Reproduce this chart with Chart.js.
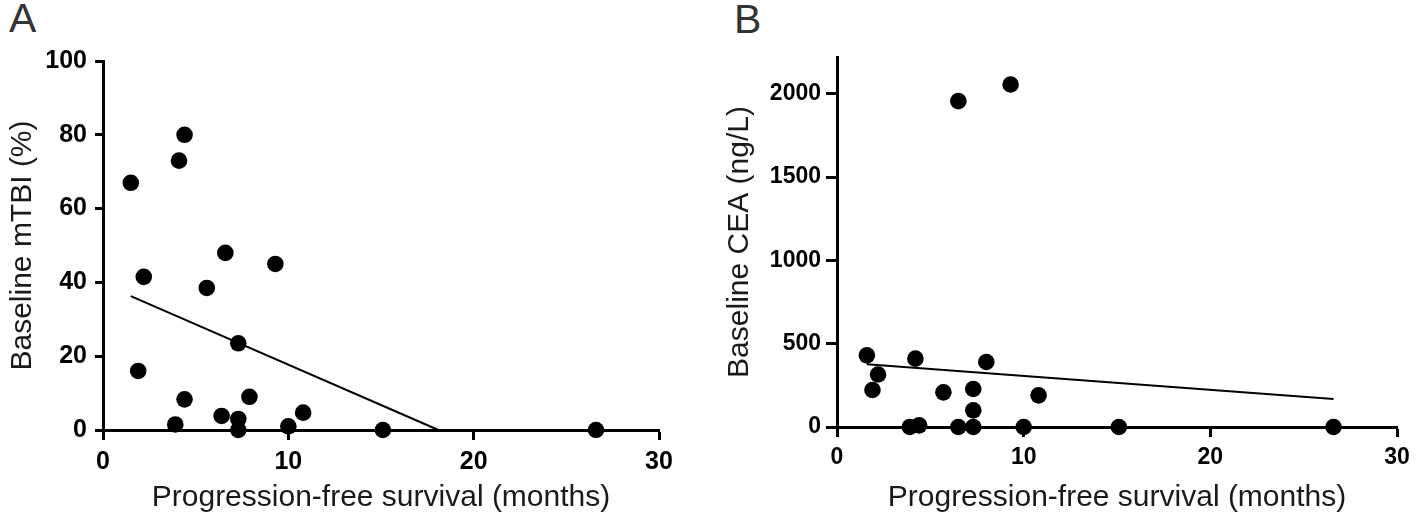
<!DOCTYPE html>
<html>
<head>
<meta charset="utf-8">
<script src="https://cdn.jsdelivr.net/npm/chart.js@4.4.1/dist/chart.umd.min.js"></script>
<style>
  html, body { margin: 0; padding: 0; background: #fff; }
  body { width: 1418px; height: 528px; position: relative; overflow: hidden; }
  canvas { position: absolute; top: 0; }
  #ca { left: 0; }
  #cb { left: 700px; }
  .lbl { position: absolute; font-family: 'Liberation Sans', Arial, sans-serif; font-size: 41px; line-height: 1; color: #333; }
</style>
</head>
<body>
<div class="lbl" style="left:9px; top:-2px;">A</div>
<div class="lbl" style="left:734px; top:-1px;">B</div>
<canvas id="ca" width="700" height="528"></canvas>
<canvas id="cb" width="718" height="528"></canvas>
<script>
// Panel A: baseline mTBI vs progression-free survival
const aPfs  = [1.5, 4.1, 4.4, 2.2, 1.9, 5.6, 6.6, 9.3, 7.3, 4.4, 7.9, 3.9, 6.4, 7.3, 10.8, 10.0, 7.3, 15.1, 26.6];
const aMtbi = [67, 73, 80, 41.5, 16, 38.5, 48, 45, 23.5, 8.3, 9, 1.5, 3.8, 3, 4.7, 1, 0, 0, 0];
const aFitX = [1.5, 18.1];
const aFitY = [36.3, 0];

// Panel B: baseline CEA vs progression-free survival
const bPfs = [9.3, 6.5, 1.6, 4.2, 8.0, 2.2, 1.9, 5.7, 7.3, 10.8, 7.3, 3.9, 4.4, 6.5, 7.3, 10.0, 15.1, 26.6];
const bCea = [2055, 1955, 430, 410, 390, 315, 222, 208, 228, 190, 100, 0, 10, 0, 0, 0, 0, 0];
const bFitX = [1.6, 26.6];
const bFitY = [376, 168];

// Tick labels
const xTicks  = [0, 10, 20, 30];
const aYTicks = [0, 20, 40, 60, 80, 100];
const bYTicks = [0, 500, 1000, 1500, 2000];

const titleA_x = 'Progression-free survival (months)';
const titleA_y = 'Baseline mTBI (%)';
const titleB_x = 'Progression-free survival (months)';
const titleB_y = 'Baseline CEA (ng/L)';

const FONT = "'Liberation Sans', Arial, sans-serif";

function pts(xs, ys) { return xs.map((x, i) => ({ x: x, y: ys[i] })); }

function makeChart(id, cfg) {
  const W = cfg.canvasW, H = 528;
  const area = cfg.area; // left, right, top, bottom
  const tickFont = { family: FONT, size: cfg.tickSize, weight: 'bold' };
  const titleFont = { family: FONT, size: 30, weight: 'normal' };
  return new Chart(document.getElementById(id), {
    type: 'scatter',
    data: {
      datasets: [
        {
          data: pts(cfg.xs, cfg.ys),
          backgroundColor: '#000',
          borderColor: '#000',
          borderWidth: 0,
          pointRadius: 8.3,
          pointHoverRadius: 8.3,
          clip: false,
          order: 1
        },
        {
          type: 'line',
          data: pts(cfg.fx, cfg.fy),
          borderColor: '#000',
          borderWidth: 2,
          pointRadius: 0,
          fill: false,
          tension: 0,
          clip: false,
          order: 2
        }
      ]
    },
    options: {
      responsive: false,
      animation: false,
      devicePixelRatio: 1,
      layout: { padding: { left: 0, top: area.top, right: W - area.right, bottom: 0 } },
      plugins: { legend: { display: false }, tooltip: { enabled: false } },
      scales: {
        x: {
          type: 'linear',
          min: 0, max: 30,
          afterBuildTicks: (s) => { s.ticks = xTicks.map(v => ({ value: v })); },
          afterFit: (s) => { s.height = H - area.bottom; },
          ticks: { color: '#000', font: tickFont, padding: 7, maxRotation: 0, callback: (v) => String(v) },
          grid: { drawOnChartArea: false, drawTicks: true, tickLength: 10, tickWidth: 3, tickColor: '#000' },
          border: { display: true, color: '#000', width: 3 },
          title: { display: true, text: cfg.xTitle, color: '#1a1a1a', font: titleFont, padding: { top: 0, bottom: 12 } }
        },
        y: {
          type: 'linear',
          min: 0, max: cfg.yMax,
          afterBuildTicks: (s) => { s.ticks = cfg.yTicks.map(v => ({ value: v })); },
          afterFit: (s) => { s.width = area.left; },
          ticks: { color: '#000', font: tickFont, padding: cfg.yTickPad, callback: (v) => String(v) },
          grid: { drawOnChartArea: false, drawTicks: true, tickLength: cfg.yTickLen, tickWidth: 3, tickColor: '#000' },
          border: { display: true, color: '#000', width: 3 },
          title: { display: true, text: cfg.yTitle, color: '#1a1a1a', font: titleFont, padding: { top: cfg.yTitlePad, bottom: 0 } }
        }
      }
    }
  });
}

makeChart('ca', {
  canvasW: 700,
  area: { left: 103, right: 659, top: 61, bottom: 430 },
  xs: aPfs, ys: aMtbi, fx: aFitX, fy: aFitY,
  yMax: 100, yTicks: aYTicks,
  tickSize: 25, yTickLen: 8, yTickPad: 8,
  xTitle: titleA_x, yTitle: titleA_y, yTitlePad: 5
});

makeChart('cb', {
  canvasW: 718,
  area: { left: 137, right: 697, top: 57, bottom: 427 },
  xs: bPfs, ys: bCea, fx: bFitX, fy: bFitY,
  yMax: 2220, yTicks: bYTicks,
  tickSize: 23, yTickLen: 11, yTickPad: 5,
  xTitle: titleB_x, yTitle: titleB_y, yTitlePad: 22
});
</script>
</body>
</html>
